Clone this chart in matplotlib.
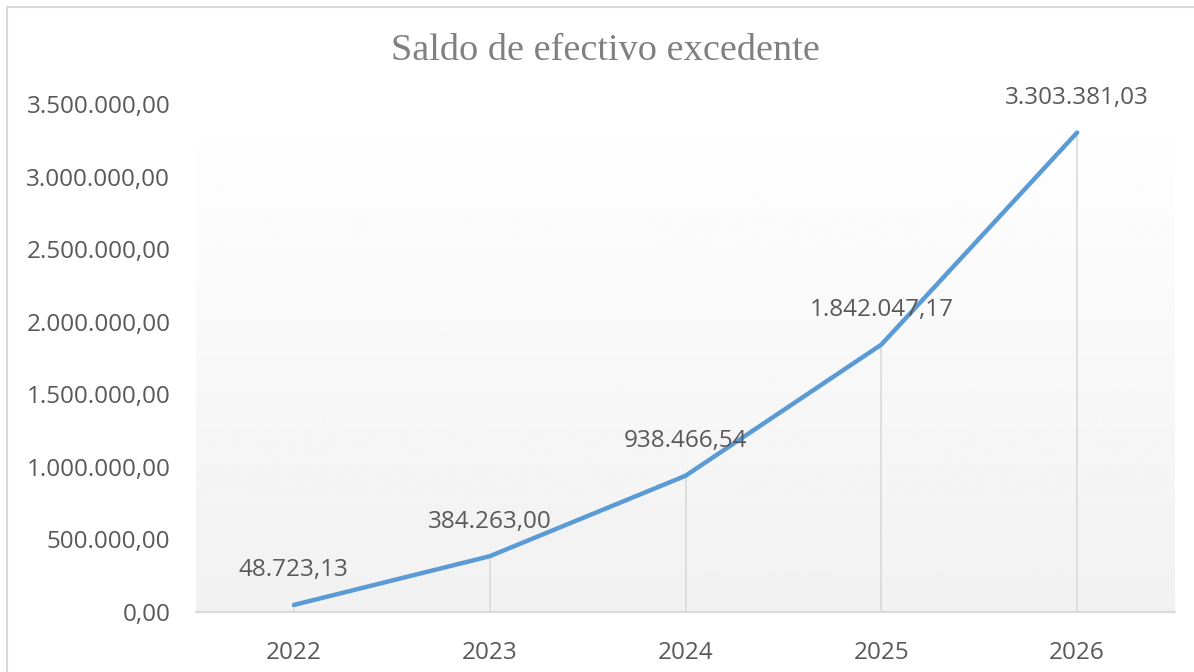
import matplotlib.pyplot as plt
from matplotlib.patches import Rectangle
import numpy as np

years = ['2022', '2023', '2024', '2025', '2026']
saldo = [48723.13, 384263.00, 938466.54, 1842047.17, 3303381.03]
y_ticks = [0, 500000, 1000000, 1500000, 2000000, 2500000, 3000000, 3500000]


def fmt_es(v):
    # 1234567.8 -> 1.234.567,80
    s = f'{v:,.2f}'
    return s.replace(',', 'X').replace('.', ',').replace('X', '.')


text_color = '#595959'
plt.rcParams['font.family'] = ['Open Sans', 'DejaVu Sans']

fig = plt.figure(figsize=(11.94, 6.72), dpi=100)
ax = fig.add_axes([196 / 1194, 1 - 612 / 672, (1175 - 196) / 1194, (612 - 104) / 672])

# chart border (only left/top visible in the reference)
fig.patches.append(Rectangle((7 / 1194, -0.1), 1.2, 1 - 7 / 672 + 0.1,
                             transform=fig.transFigure, fill=False,
                             edgecolor='#d9d9d9', linewidth=1.5))

x = np.arange(len(years))

# gradient background of plot area
grad = np.linspace(1.0, 0.945, 256).reshape(-1, 1)
ax.imshow(grad, extent=[-0.5, 4.5, 0, 3500000], aspect='auto', cmap='gray',
          vmin=0, vmax=1, zorder=0, origin='upper')

# drop lines
ax.vlines(x, 0, saldo, colors='#d9d9d9', linewidth=1.2, zorder=1)

ax.plot(x, saldo, color='#5b9bd5', linewidth=3.2, solid_capstyle='round', zorder=3)

for xi, v in zip(x, saldo):
    ax.annotate(fmt_es(v), (xi, v), xytext=(0, 25), textcoords='offset points',
                ha='center', va='center', fontsize=17.5, color=text_color, zorder=4)

ax.set_xlim(-0.5, 4.5)
ax.set_ylim(0, 3500000)
ax.set_xticks(x)
ax.set_xticklabels(years)
ax.set_yticks(y_ticks)
ax.set_yticklabels([fmt_es(v) for v in y_ticks])
ax.tick_params(axis='both', length=0, labelsize=17.5, labelcolor=text_color)
ax.tick_params(axis='x', pad=21)
ax.tick_params(axis='y', pad=18.5)

for side in ['top', 'right', 'left']:
    ax.spines[side].set_visible(False)
ax.spines['bottom'].set_color('#d9d9d9')
ax.spines['bottom'].set_linewidth(1.5)

fig.text(605 / 1194, 1 - 51 / 672, 'Saldo de efectivo excedente',
         family='Liberation Serif', fontsize=27.5, color='#808080',
         ha='center', va='center')

fig.savefig('out.png', dpi=100)
